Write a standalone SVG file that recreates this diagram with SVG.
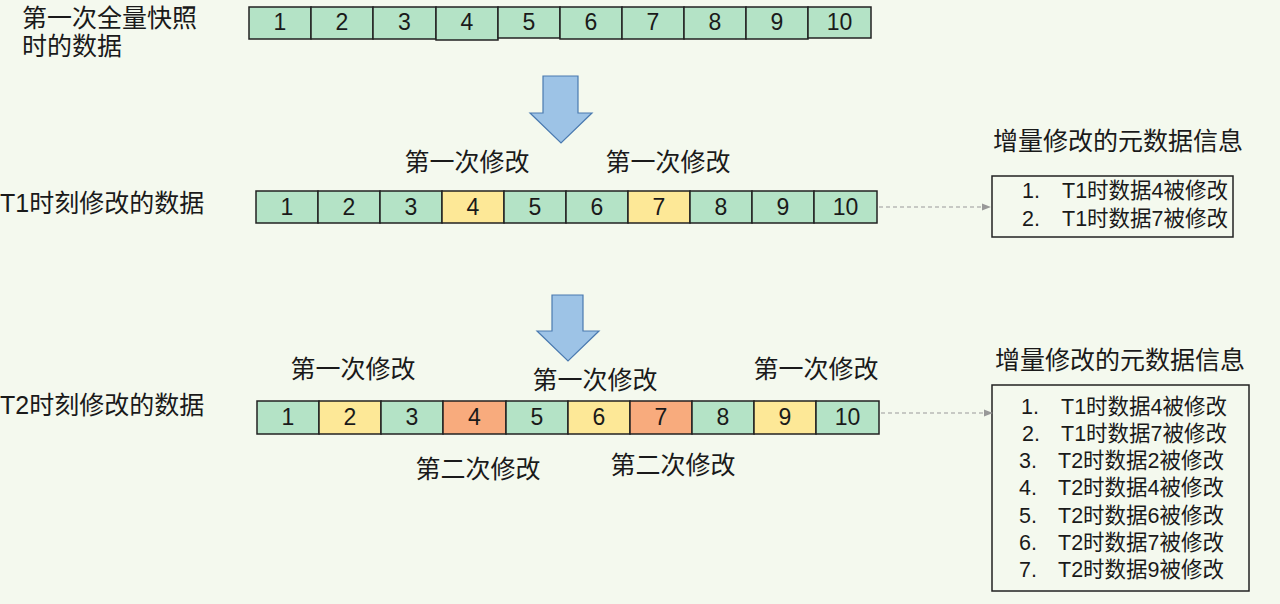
<svg xmlns="http://www.w3.org/2000/svg" width="1280" height="604" viewBox="0 0 1280 604">
<defs>
<style>
.t{font-family:"Liberation Sans","Noto Sans CJK SC",sans-serif;fill:#1a1a1a;dominant-baseline:central}
.lb{font-size:25px}
.num{font-family:"Liberation Sans","Noto Sans",sans-serif;font-size:23px;fill:#1a1a1a;text-anchor:middle;dominant-baseline:central}
.li{font-size:21.5px}
.g{fill:#b4e3c6;stroke:#222;stroke-width:1.5}
.y{fill:#fde897;stroke:#222;stroke-width:1.5}
.o{fill:#f8ab7d;stroke:#222;stroke-width:1.5}
.box{fill:none;stroke:#222;stroke-width:1.5}
.arr{fill:#9dc3e6;stroke:#4a7ab0;stroke-width:1.2}
.dash{stroke:#999;stroke-width:1.2;stroke-dasharray:4 3;fill:none}
</style>
<marker id="ah" viewBox="0 0 10 10" refX="9" refY="5" markerWidth="9" markerHeight="9" markerUnits="userSpaceOnUse" orient="auto">
<path d="M0,1 L10,5 L0,9 z" fill="#999"/>
</marker>
</defs>
<rect width="1280" height="604" fill="#f4f9ee"/>

<g id="label-snapshot">
<text class="t lb" x="22" y="18">第一次全量快照</text>
<text class="t lb" x="22" y="46">时的数据</text>
</g>

<g id="row-snapshot">
<rect class="g" x="249" y="7" width="62" height="32"/>
<rect class="g" x="311" y="7" width="62" height="32"/>
<rect class="g" x="373" y="7" width="63" height="32"/>
<rect class="g" x="436" y="7" width="62" height="33"/>
<rect class="g" x="498" y="7" width="62" height="31"/>
<rect class="g" x="560" y="7" width="62" height="32"/>
<rect class="g" x="622" y="7" width="62" height="32"/>
<rect class="g" x="684" y="7" width="62" height="32"/>
<rect class="g" x="746" y="7" width="62" height="32"/>
<rect class="g" x="808" y="7" width="63" height="31"/>
<text class="num" x="280" y="22">1</text>
<text class="num" x="342" y="22">2</text>
<text class="num" x="404.5" y="22">3</text>
<text class="num" x="467" y="22">4</text>
<text class="num" x="529" y="22">5</text>
<text class="num" x="591" y="22">6</text>
<text class="num" x="653" y="22">7</text>
<text class="num" x="715" y="22">8</text>
<text class="num" x="777" y="22">9</text>
<text class="num" x="839.5" y="22">10</text>
</g>

<g id="arrow-down-1">
<path class="arr" d="M543,76 L578,76 L578,113 L592,113 L561,143 L530,113 L543,113 Z"/>
</g>

<g id="label-t1">
<text class="t lb" x="0" y="203">T1时刻修改的数据</text>
</g>

<g id="t1-annotations">
<text class="t lb" x="467" y="162" text-anchor="middle">第一次修改</text>
<text class="t lb" x="668" y="162" text-anchor="middle">第一次修改</text>
</g>

<g id="row-t1">
<rect class="g" x="256" y="191" width="62" height="32"/>
<rect class="g" x="318" y="191" width="62" height="32"/>
<rect class="g" x="380" y="191" width="62" height="32"/>
<rect class="y" x="442" y="191" width="62" height="32"/>
<rect class="g" x="504" y="191" width="62" height="32"/>
<rect class="g" x="566" y="191" width="62" height="32"/>
<rect class="y" x="628" y="191" width="62" height="32"/>
<rect class="g" x="690" y="191" width="62" height="32"/>
<rect class="g" x="752" y="191" width="62" height="32"/>
<rect class="g" x="814" y="191" width="63" height="32"/>
<text class="num" x="287" y="207">1</text>
<text class="num" x="349" y="207">2</text>
<text class="num" x="411" y="207">3</text>
<text class="num" x="473" y="207">4</text>
<text class="num" x="535" y="207">5</text>
<text class="num" x="597" y="207">6</text>
<text class="num" x="659" y="207">7</text>
<text class="num" x="721" y="207">8</text>
<text class="num" x="783" y="207">9</text>
<text class="num" x="845.5" y="207">10</text>
</g>

<g id="meta-t1">
<text class="t lb" x="1118" y="141" text-anchor="middle">增量修改的元数据信息</text>
<rect class="box" x="992" y="176" width="241" height="61"/>
<text class="t li" x="1022" y="191">1.</text>
<text class="t li" x="1062" y="191">T1时数据4被修改</text>
<text class="t li" x="1022" y="219">2.</text>
<text class="t li" x="1062" y="219">T1时数据7被修改</text>
</g>

<g id="arrow-down-2">
<path class="arr" d="M552,295 L583,295 L583,331 L599,331 L568,361 L537,331 L552,331 Z"/>
</g>

<g id="label-t2">
<text class="t lb" x="0" y="405">T2时刻修改的数据</text>
</g>

<g id="t2-annotations">
<text class="t lb" x="353" y="369" text-anchor="middle">第一次修改</text>
<text class="t lb" x="595" y="380" text-anchor="middle">第一次修改</text>
<text class="t lb" x="816" y="369" text-anchor="middle">第一次修改</text>
<text class="t lb" x="478" y="469" text-anchor="middle">第二次修改</text>
<text class="t lb" x="673" y="465" text-anchor="middle">第二次修改</text>
</g>

<g id="row-t2">
<rect class="g" x="257" y="401" width="62" height="33"/>
<rect class="y" x="319" y="401" width="62" height="33"/>
<rect class="g" x="381" y="401" width="62" height="33"/>
<rect class="o" x="443" y="401" width="63" height="33"/>
<rect class="g" x="506" y="401" width="62" height="33"/>
<rect class="y" x="568" y="401" width="62" height="33"/>
<rect class="o" x="630" y="401" width="62" height="33"/>
<rect class="g" x="692" y="401" width="62" height="33"/>
<rect class="y" x="754" y="401" width="62" height="33"/>
<rect class="g" x="816" y="401" width="63" height="33"/>
<text class="num" x="288" y="417">1</text>
<text class="num" x="350" y="417">2</text>
<text class="num" x="412" y="417">3</text>
<text class="num" x="474.5" y="417">4</text>
<text class="num" x="537" y="417">5</text>
<text class="num" x="599" y="417">6</text>
<text class="num" x="661" y="417">7</text>
<text class="num" x="723" y="417">8</text>
<text class="num" x="785" y="417">9</text>
<text class="num" x="847.5" y="417">10</text>
</g>

<g id="meta-t2">
<text class="t lb" x="1120" y="360" text-anchor="middle">增量修改的元数据信息</text>
<rect class="box" x="992" y="385" width="257" height="206"/>
<text class="t li" x="1021" y="407">1.</text>
<text class="t li" x="1061" y="407">T1时数据4被修改</text>
<text class="t li" x="1022" y="434">2.</text>
<text class="t li" x="1061" y="434">T1时数据7被修改</text>
<text class="t li" x="1019" y="461">3.</text>
<text class="t li" x="1058" y="461">T2时数据2被修改</text>
<text class="t li" x="1019" y="488">4.</text>
<text class="t li" x="1058" y="488">T2时数据4被修改</text>
<text class="t li" x="1019" y="516">5.</text>
<text class="t li" x="1058" y="516">T2时数据6被修改</text>
<text class="t li" x="1019" y="543">6.</text>
<text class="t li" x="1058" y="543">T2时数据7被修改</text>
<text class="t li" x="1019" y="570">7.</text>
<text class="t li" x="1058" y="570">T2时数据9被修改</text>
</g>

<g id="connectors">
<line class="dash" x1="879" y1="207" x2="990" y2="207" marker-end="url(#ah)"/>
<line class="dash" x1="881" y1="413" x2="992" y2="413" marker-end="url(#ah)"/>
</g>
</svg>
